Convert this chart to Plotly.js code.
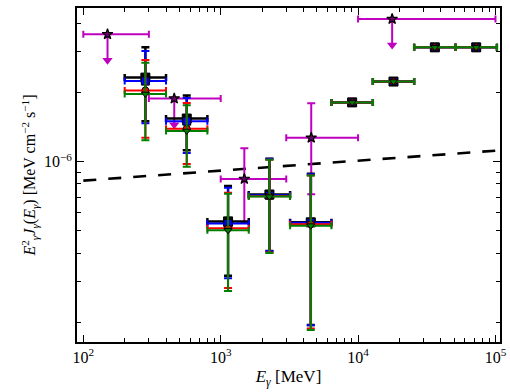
<!DOCTYPE html>
<html><head><meta charset="utf-8">
<script src="https://cdn.plot.ly/plotly-3.0.1.min.js"></script>
<style>html,body{margin:0;padding:0;background:#fff}</style>
</head><body><div id="chart" style="width:510px;height:392px"></div>
<script>
// ---- Data ----
const energy   = [283, 566, 1131, 2263, 4525, 9051, 18102, 36204, 72408];
const binLow   = [200, 400, 800, 1600, 3200, 6400, 12800, 25600, 51200];
const binHigh  = [400, 800, 1600, 3200, 6400, 12800, 25600, 51200, 102400];

const fluxBlack = [2.32e-6, 1.54e-6, 5.50e-7, 7.20e-7, 5.45e-7, 1.81e-6, 2.23e-6, 3.14e-6, 3.14e-6];
const upBlack   = [3.14e-6, 1.94e-6, 7.84e-7, 1.03e-6, 8.85e-7, null, null, null, null];
const loBlack   = [1.50e-6, 1.12e-6, 3.19e-7, 4.09e-7, 1.95e-7, null, null, null, null];

const fluxBlue  = [2.24e-6, 1.50e-6, 5.38e-7, 7.15e-7, 5.43e-7, 1.81e-6, 2.23e-6, 3.14e-6, 3.14e-6];
const upBlue    = [3.03e-6, 1.89e-6, 7.71e-7, 1.03e-6, 8.81e-7, null, null, null, null];
const loBlue    = [1.47e-6, 1.09e-6, 3.11e-7, 4.09e-7, 1.945e-7, null, null, null, null];

const fluxRed   = [2.04e-6, 1.39e-6, 5.13e-7, 7.08e-7, 5.35e-7, 1.81e-6, 2.23e-6, 3.14e-6, 3.14e-6];
const upRed     = [2.77e-6, 1.80e-6, 7.33e-7, 1.02e-6, 8.70e-7, null, null, null, null];
const loRed     = [1.27e-6, 9.77e-7, 2.82e-7, 4.03e-7, 1.88e-7, null, null, null, null];

const fluxGreen = [1.97e-6, 1.36e-6, 5.03e-7, 7.05e-7, 5.27e-7, 1.81e-6, 2.23e-6, 3.14e-6, 3.14e-6];
const upGreen   = [2.69e-6, 1.76e-6, 7.26e-7, 1.02e-6, 8.70e-7, null, null, null, null];
const loGreen   = [1.24e-6, 9.51e-7, 2.74e-7, 4.01e-7, 1.855e-7, null, null, null, null];

// magenta star points (some are upper limits)
const starE      = [150, 459, 1486, 4560, 17700];
const starLow    = [100, 300, 1000, 3000, 10000];
const starHigh   = [300, 1000, 3000, 10000, 100000];
const starFlux   = [3.58e-6, 1.88e-6, 8.41e-7, 1.27e-6, 4.17e-6];
const starUp     = [null, null, 1.143e-6, 1.795e-6, null];
const starLo     = [null, null, 5.43e-7, 7.21e-7, null];
const starLimit  = [true, true, false, false, true];

// dashed reference line
const lineE    = [100, 100000];
const lineFlux = [8.27e-7, 1.116e-6];

// tick labels
const xTickVals = [1e2, 1e3, 1e4, 1e5];
const xTickText = ['10<sup>2</sup>', '10<sup>3</sup>', '10<sup>4</sup>', '10<sup>5</sup>'];
const yTickVals = [1e-6];
const yTickText = ['10<sup>\u22126</sup>'];

// ---- helpers ----
const arrowFactor = 0.77;
function errPlus(v, hi) { return v.map((y, i) => hi[i] == null ? NaN : hi[i] - y); }
function errMinus(v, lo) { return v.map((y, i) => lo[i] == null ? NaN : y - lo[i]); }
function minorTicks(d0, d1) {
  const out = [];
  for (let d = d0; d <= d1; d++) for (let k = 2; k <= 9; k++) out.push(k * Math.pow(10, d));
  return out;
}

function series(flux, up, lo, color, symbol, size, lw) {
  return {
    type: 'scatter', mode: 'markers', x: energy, y: flux, showlegend: false,
    marker: { color: color, symbol: symbol, size: size, line: { color: 'black', width: 1 } },
    error_x: { type: 'data', symmetric: false,
      array: energy.map((e, i) => binHigh[i] - e), arrayminus: energy.map((e, i) => e - binLow[i]),
      color: color, thickness: lw, width: 3.5 },
    error_y: { type: 'data', symmetric: false, array: errPlus(flux, up), arrayminus: errMinus(flux, lo),
      color: color, thickness: lw, width: 4 }
  };
}

const magenta = '#bf00bf';
const traces = [];
traces.push({ type: 'scatter', mode: 'lines', x: lineE, y: lineFlux, showlegend: false,
  line: { color: 'black', width: 2.6, dash: '13px,12px' } });

// arrows for upper limits
const shaftX = [], shaftY = [], headX = [], headY = [];
starE.forEach((e, i) => {
  if (starLimit[i]) {
    shaftX.push(e, e, null); shaftY.push(starFlux[i], starFlux[i] * arrowFactor, null);
    headX.push(e); headY.push(starFlux[i] * arrowFactor);
  }
});
traces.push({ type: 'scatter', mode: 'lines', x: shaftX, y: shaftY, showlegend: false,
  line: { color: magenta, width: 2 } });
traces.push({ type: 'scatter', mode: 'markers', x: headX, y: headY, showlegend: false,
  marker: { color: magenta, symbol: 'triangle-down', size: 9, line: { width: 0 } } });
traces.push({ type: 'scatter', mode: 'markers', x: starE, y: starFlux, showlegend: false,
  marker: { color: '#6a006a', symbol: 'star', size: 8, line: { color: 'black', width: 1.2 } },
  error_x: { type: 'data', symmetric: false,
    array: starE.map((e, i) => starHigh[i] - e), arrayminus: starE.map((e, i) => e - starLow[i]),
    color: magenta, thickness: 2, width: 3.5 },
  error_y: { type: 'data', symmetric: false, array: errPlus(starFlux, starUp), arrayminus: errMinus(starFlux, starLo),
    color: magenta, thickness: 2, width: 4 } });

traces.push(series(fluxBlack, upBlack, loBlack, 'black', 'square', 9, 2.5));
traces.push(series(fluxBlue, upBlue, loBlue, '#0000ff', 'square', 8, 2));
traces.push(series(fluxRed, upRed, loRed, '#ff0000', 'circle', 7, 2));
traces.push(series(fluxGreen, upGreen, loGreen, '#008000', 'triangle-down', 7, 2));

const axisCommon = {
  type: 'log', showgrid: false, zeroline: false, showline: true, linecolor: 'black', linewidth: 2,
  mirror: 'allticks', ticks: 'inside', ticklen: 7, tickwidth: 1, tickcolor: 'black',
  tickmode: 'array', tickfont: { family: 'Liberation Serif, DejaVu Serif, serif', size: 16, color: 'black' }
};

const layout = {
  width: 510, height: 392,
  margin: { l: 77, r: 10, t: 8, b: 50 },
  paper_bgcolor: 'white', plot_bgcolor: 'white',
  font: { family: 'Liberation Serif, DejaVu Serif, serif', color: 'black' },
  xaxis: Object.assign({}, axisCommon, {
    range: [1.954, 5.033], tickvals: xTickVals, ticktext: xTickText,
    minor: { tickmode: 'array', tickvals: minorTicks(1, 4), ticks: 'inside', ticklen: 4, tickwidth: 1, tickcolor: 'black', showgrid: false },
    title: { text: '<i>E</i><sub><i>γ</i></sub> [MeV]', font: { size: 17 }, standoff: 5 }
  }),
  yaxis: Object.assign({}, axisCommon, {
    range: [-6.784, -5.332], tickvals: yTickVals, ticktext: yTickText,
    minor: { tickmode: 'array', tickvals: minorTicks(-8, -6), ticks: 'inside', ticklen: 4, tickwidth: 1, tickcolor: 'black', showgrid: false },
    title: { text: '<i>E</i><sup>2</sup><sub><i>γ</i></sub><i>J</i><sub><i>γ</i></sub>(<i>E</i><sub><i>γ</i></sub>) [MeV cm<sup>\u22122</sup> s<sup>\u22121</sup>]', font: { size: 16 }, standoff: 4 }
  })
};

Plotly.newPlot('chart', traces, layout, { displayModeBar: false, staticPlot: true });
</script>
</body></html>
